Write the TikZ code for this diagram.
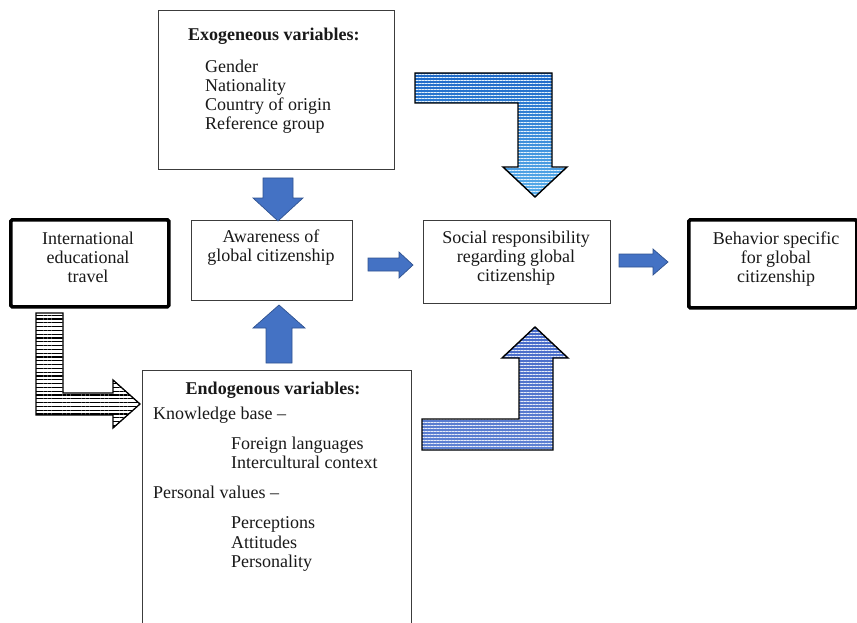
\documentclass[tikz,border=0pt]{standalone}
\usepackage{fontspec}
\setmainfont{Liberation Serif}
\usetikzlibrary{patterns.meta}
\definecolor{solidblue}{RGB}{68,114,196}
\definecolor{solidedge}{RGB}{47,82,143}
\definecolor{txtc}{RGB}{25,25,25}
\definecolor{thinedge}{RGB}{60,60,60}
\definecolor{trtop}{RGB}{30,105,200}
\definecolor{trbot}{RGB}{90,175,235}
\definecolor{brtop}{RGB}{70,105,200}
\definecolor{brbot}{RGB}{95,130,210}
\begin{document}
\begin{tikzpicture}[x=1pt,y=-1pt,
  thinbox/.style={draw=thinedge,line width=0.9pt,fill=white},
  thickbox/.style={draw=black,line width=3.6pt,rounded corners=1.5pt,fill=white},
  txt/.style={inner sep=0pt,text=txtc,font=\fontsize{18}{19.3}\selectfont,align=center},
  ltxt/.style={inner sep=0pt,text=txtc,font=\fontsize{18}{19.3}\selectfont,anchor=base west},
  solidarrow/.style={fill=solidblue,draw=solidedge,line width=0.7pt,line join=miter},
  bluestripe/.style 2 args={draw=black,line width=1.4pt,line join=miter,
     preaction={top color=#1,bottom color=#2},
     preaction={pattern={Lines[angle=0,distance=3pt,line width=0.9pt]},pattern color=white!85!#2}},
  blackstripe/.style={draw=black,line width=1.3pt,line join=miter,
     preaction={fill=white},
     preaction={pattern={Lines[angle=0,distance=3.8pt,line width=1.1pt]},pattern color=black}}
]
\useasboundingbox (0,0) rectangle (857,623);
\clip (0,0) rectangle (857,623);

% boxes
\node[thinbox,minimum width=236pt,minimum height=159pt,anchor=north west] (exo) at (158,10) {};
\node[thinbox,minimum width=161pt,minimum height=80pt,anchor=north west] (aware) at (191,220) {};
\node[thinbox,minimum width=187pt,minimum height=83pt,anchor=north west] (social) at (423,220) {};
\node[thickbox,minimum width=158pt,minimum height=87pt,anchor=north west] (intl) at (9,218) {};
\node[thickbox,minimum width=168pt,minimum height=88pt,anchor=north west] (behav) at (687,218) {};
\node[thinbox,minimum width=269pt,minimum height=270pt,anchor=north west] (endo) at (142,370) {};

% texts
\node[ltxt,font=\fontsize{18}{19.3}\selectfont\bfseries] (exotitle) at (188,41) {Exogeneous variables:};
\node[ltxt] (gender) at (205,73) {Gender};
\node[ltxt] (nation) at (205,92) {Nationality};
\node[ltxt] (country) at (205,111) {Country of origin};
\node[ltxt] (refgroup) at (205,130) {Reference group};

\node[txt,anchor=north] (intltxt) at (88,231.5) {International\\educational\\travel};
\node[txt,anchor=north] (awaretxt) at (271,229.5) {Awareness of\\global citizenship};
\node[txt,anchor=north] (socialtxt) at (516,230.5) {Social responsibility\\regarding global\\citizenship};
\node[txt,anchor=north] (behavtxt) at (776,231.5) {Behavior specific\\for global\\citizenship};

\node[txt,anchor=base,font=\fontsize{18}{19.3}\selectfont\bfseries] (endotitle) at (273,394) {Endogenous variables:};
\node[ltxt] (knowledge) at (153,419) {Knowledge base --};
\node[ltxt] (foreign) at (231,449) {Foreign languages};
\node[ltxt] (intercult) at (231,468) {Intercultural context};
\node[ltxt] (personal) at (153,498) {Personal values --};
\node[ltxt] (percept) at (231,528) {Perceptions};
\node[ltxt] (attit) at (231,548) {Attitudes};
\node[ltxt] (persona) at (231,567) {Personality};

% solid block arrows
\draw[solidarrow] (263,178) -- (293,178) -- (293,198) -- (303,198) -- (278,221) -- (253,198) -- (263,198) -- cycle;
\draw[solidarrow] (266,363) -- (292,363) -- (292,328) -- (305,328) -- (279,305) -- (253,328) -- (266,328) -- cycle;
\draw[solidarrow] (368,258) -- (399,258) -- (399,252) -- (413,265) -- (399,278) -- (399,271) -- (368,271) -- cycle;
\draw[solidarrow] (619,254) -- (653,254) -- (653,249) -- (668,262) -- (653,275) -- (653,267) -- (619,267) -- cycle;

% striped bent arrows
\draw[bluestripe={trtop}{trbot}] (415,73) -- (552,73) -- (552,167) -- (567,167) -- (535,197) -- (503,167) -- (518,167) -- (518,103) -- (415,103) -- cycle;
\draw[bluestripe={brtop}{brbot}] (422,419) -- (519,419) -- (519,358) -- (502,358) -- (535,327) -- (568,358) -- (553,358) -- (553,450) -- (422,450) -- cycle;
\draw[blackstripe] (36,313) -- (63,313) -- (63,393) -- (113,393) -- (113,380) -- (140,404) -- (113,428) -- (113,415) -- (36,415) -- cycle;
\end{tikzpicture}
\end{document}
